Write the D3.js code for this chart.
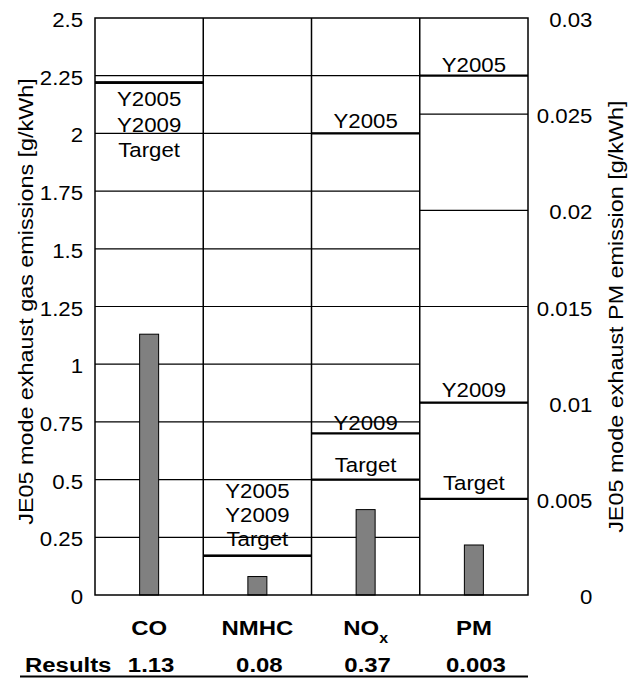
<!DOCTYPE html>
<html>
<head>
<meta charset="utf-8">
<script src="https://cdn.jsdelivr.net/npm/d3@7"></script>
<style>
body { margin: 0; background: #fff; }
text { font-family: "Liberation Sans", Arial, sans-serif; fill: #000; }
</style>
</head>
<body>
<div id="chart"></div>
<script>
// data
var categories = ["CO", "NMHC", "NOx", "PM"];
var results = [1.13, 0.08, 0.37, 0.0026];
var resultLabels = ["1.13", "0.08", "0.37", "0.003"];
var limitNames = ["Y2005", "Y2009", "Target"];
var limitY2005 = [2.22, 0.17, 2.0, 0.027];
var limitY2009 = [2.22, 0.17, 0.7, 0.010];
var limitTarget = [2.22, 0.17, 0.5, 0.005];
var gasTicks = [0, 0.25, 0.5, 0.75, 1, 1.25, 1.5, 1.75, 2, 2.25, 2.5];
var pmTicks = [0, 0.005, 0.01, 0.015, 0.02, 0.025, 0.03];

var w = 636,
    h = 679,
    plotL = 95, plotR = 528, plotT = 18, plotB = 595,
    barW = 19,
    SX = 1.14; // the original font is a bit wider than Arial

// baseline offsets of the limit labels from their line (px)
var labelOffsets = {
    CO: [23.5, 49, 74.7],
    NMHC: [-57.4, -34, -9.7],
    NOx: [-5, -3.5, -8],
    PM: [-4, -6, -9]
};

var x = d3.scaleBand().domain(categories).range([plotL, plotR]);
var yGas = d3.scaleLinear().domain([0, 2.5]).range([plotB, plotT]);
var yPM = d3.scaleLinear().domain([0, 0.03]).range([plotB, plotT]);
function yFor(cat) { return cat === "PM" ? yPM : yGas; }
function cx(cat) { return x(cat) + x.bandwidth() / 2; }

var svg = d3.select("#chart").append("svg")
    .attr("width", w)
    .attr("height", h);

function addText(str, tx, ty, size, opts) {
    opts = opts || {};
    var t = svg.append("text")
        .attr("transform", "translate(" + tx + "," + ty + ")" +
              (opts.rotate ? " rotate(" + opts.rotate + ")" : "") +
              " scale(" + SX + ",1)")
        .attr("text-anchor", opts.anchor || "middle")
        .style("font-size", size + "px")
        .style("font-weight", opts.bold ? "bold" : "normal")
        .text(str);
    return t;
}

// gridlines, gas part (CO, NMHC, NOx)
svg.append("g").selectAll("line")
    .data(gasTicks.slice(1, -1))
    .enter().append("line")
    .attr("x1", plotL).attr("x2", x("PM"))
    .attr("y1", function(d) { return yGas(d); })
    .attr("y2", function(d) { return yGas(d); })
    .attr("stroke", "#000").attr("stroke-width", 1.2);

// gridlines, PM column
svg.append("g").selectAll("line")
    .data(pmTicks.slice(1, -1))
    .enter().append("line")
    .attr("x1", x("PM")).attr("x2", plotR)
    .attr("y1", function(d) { return yPM(d); })
    .attr("y2", function(d) { return yPM(d); })
    .attr("stroke", "#000").attr("stroke-width", 1.2);

// regulation limit lines
var limits = [limitY2005, limitY2009, limitTarget];
categories.forEach(function(cat, i) {
    limits.forEach(function(arr) {
        var yy = yFor(cat)(arr[i]);
        svg.append("line")
            .attr("x1", x(cat)).attr("x2", x(cat) + x.bandwidth())
            .attr("y1", yy).attr("y2", yy)
            .attr("stroke", "#000").attr("stroke-width", 2.2);
    });
});

// result bars
svg.append("g").selectAll("rect")
    .data(categories)
    .enter().append("rect")
    .attr("x", function(d) { return cx(d) - barW / 2; })
    .attr("y", function(d, i) { return yFor(d)(results[i]); })
    .attr("width", barW)
    .attr("height", function(d, i) { return plotB - yFor(d)(results[i]); })
    .attr("fill", "#808080")
    .attr("stroke", "#000")
    .attr("stroke-width", 1);

// limit labels
categories.forEach(function(cat, i) {
    limits.forEach(function(arr, k) {
        var yy = yFor(cat)(arr[i]);
        addText(limitNames[k], cx(cat), yy + labelOffsets[cat][k], 19.5);
    });
});

// column dividers
svg.append("g").selectAll("line")
    .data(categories.slice(1))
    .enter().append("line")
    .attr("x1", function(d) { return x(d); })
    .attr("x2", function(d) { return x(d); })
    .attr("y1", plotT).attr("y2", plotB)
    .attr("stroke", "#000").attr("stroke-width", 1.5);

// frame
svg.append("rect")
    .attr("x", plotL).attr("y", plotT)
    .attr("width", plotR - plotL).attr("height", plotB - plotT)
    .attr("fill", "none").attr("stroke", "#000").attr("stroke-width", 1.5);

// axes
var leftAxis = svg.append("g")
    .attr("transform", "translate(" + plotL + ",0)")
    .call(d3.axisLeft(yGas).tickValues(gasTicks).tickSize(0).tickFormat(String));
leftAxis.select(".domain").remove();
leftAxis.selectAll("text")
    .attr("x", -10.5)
    .attr("dy", "0.44em")
    .attr("transform", "scale(" + SX + ",1)")
    .style("font-size", "19.5px")
    .style("font-family", null);

var rightAxis = svg.append("g")
    .attr("transform", "translate(" + plotR + ",0)")
    .call(d3.axisRight(yPM).tickValues(pmTicks).tickSize(0).tickFormat(String));
rightAxis.select(".domain").remove();
rightAxis.selectAll("text")
    .attr("x", 56.5)
    .attr("dy", "0.44em")
    .attr("text-anchor", "end")
    .attr("transform", "scale(" + SX + ",1)")
    .style("font-size", "19.5px")
    .style("font-family", null);

// axis titles
addText("JE05 mode exhaust gas emissions [g/kWh]", 33, 301.5, 20.5, { rotate: -90 });
addText("JE05 mode exhaust PM emission [g/kWh]", 623, 316.7, 20.5, { rotate: -90 });

// category labels
categories.forEach(function(cat) {
    var t = addText("", cx(cat), 635, 21, { bold: true });
    if (cat === "NOx") {
        t.append("tspan").text("NO");
        t.append("tspan").attr("dy", 8).style("font-size", "14px").text("x");
    } else {
        t.text(cat);
    }
});

// results row
addText("Results", 25, 672, 21, { bold: true, anchor: "start" });
categories.forEach(function(cat, i) {
    addText(resultLabels[i], cx(cat) + 2, 672, 21, { bold: true });
});
svg.append("line")
    .attr("x1", 20).attr("x2", plotR)
    .attr("y1", 676.5).attr("y2", 676.5)
    .attr("stroke", "#000").attr("stroke-width", 2);
</script>
</body>
</html>
